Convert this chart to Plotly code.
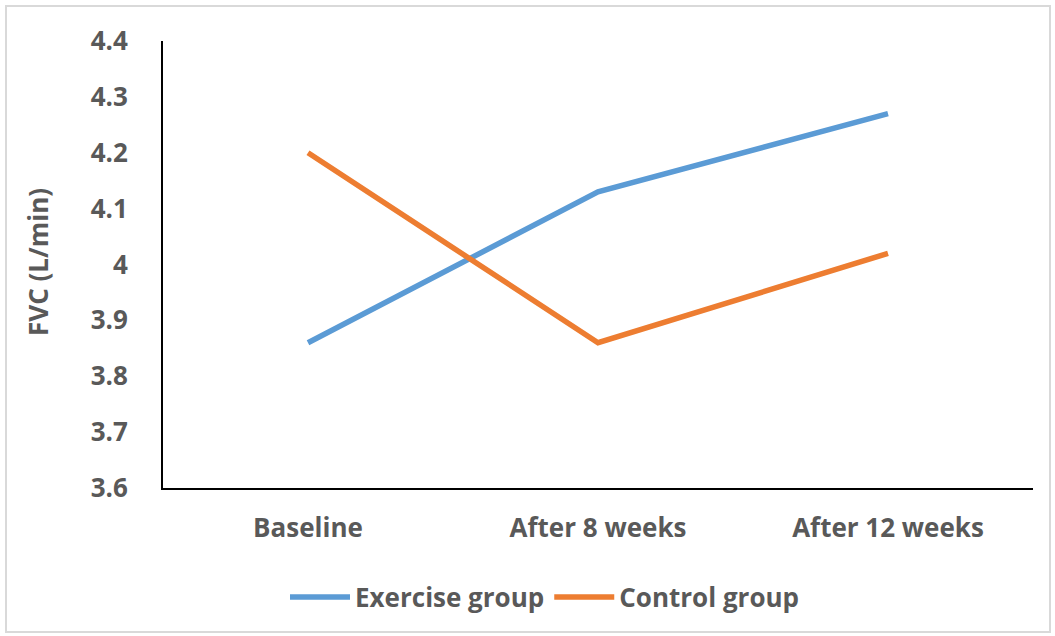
import plotly.graph_objects as go

categories = ["Baseline", "After 8 weeks", "After 12 weeks"]
exercise = [3.86, 4.13, 4.27]
control = [4.20, 3.86, 4.02]
y_ticks = [3.6, 3.7, 3.8, 3.9, 4.0, 4.1, 4.2, 4.3, 4.4]
y_tick_text = ["3.6", "3.7", "3.8", "3.9", "4", "4.1", "4.2", "4.3", "4.4"]

W, H = 1055, 636
L, R, T, B = 163, 22, 41, 148
pw, ph = W - L - R, H - T - B

font_fam = "Open Sans"
gray = "#595959"
fs = 26

fig = go.Figure()
fig.add_trace(go.Scatter(x=categories, y=exercise, mode="lines", name="Exercise group",
                         line=dict(color="#5B9BD5", width=5.5)))
fig.add_trace(go.Scatter(x=categories, y=control, mode="lines", name="Control group",
                         line=dict(color="#ED7D31", width=5.5)))

fig.update_layout(
    width=W, height=H,
    margin=dict(l=L, r=R, t=T, b=B),
    paper_bgcolor="white", plot_bgcolor="white",
    font=dict(family=font_fam, color=gray, size=fs, weight=700),
    xaxis=dict(type="category", range=[-0.5, 2.5], showgrid=False, zeroline=False,
               showline=True, linecolor="black", linewidth=2, ticks="",
               ticklabelstandoff=16, tickfont=dict(size=fs, weight=700, color=gray)),
    yaxis=dict(range=[3.6, 4.4], tickvals=y_ticks, ticktext=y_tick_text, showgrid=False,
               zeroline=False, showline=True, linecolor="black", linewidth=2, ticks="",
               ticklabelstandoff=28, tickfont=dict(size=fs, weight=700, color=gray)),
    legend=dict(orientation="h", x=(545 - L) / pw, xanchor="center",
                y=(H - B - 597) / ph, yanchor="middle",
                font=dict(size=fs, weight=700, color=gray), itemwidth=60,
                bgcolor="rgba(0,0,0,0)"),
    showlegend=True,
)

fig.add_annotation(text="FVC (L/min)", textangle=-90, xref="paper", yref="paper",
                   x=(38 - L) / pw, y=(H - B - 262) / ph, showarrow=False,
                   xanchor="center", yanchor="middle",
                   font=dict(size=fs, weight=700, color=gray, family=font_fam))

fig.add_shape(type="rect", xref="paper", yref="paper",
              x0=(6 - L) / pw, x1=(1050 - L) / pw,
              y0=(H - B - 632) / ph, y1=(H - B - 6) / ph,
              line=dict(color="#D9D9D9", width=2), layer="below")

fig.write_html("out.html", config={"displayModeBar": False},
               post_script="document.body.style.margin='0';")
